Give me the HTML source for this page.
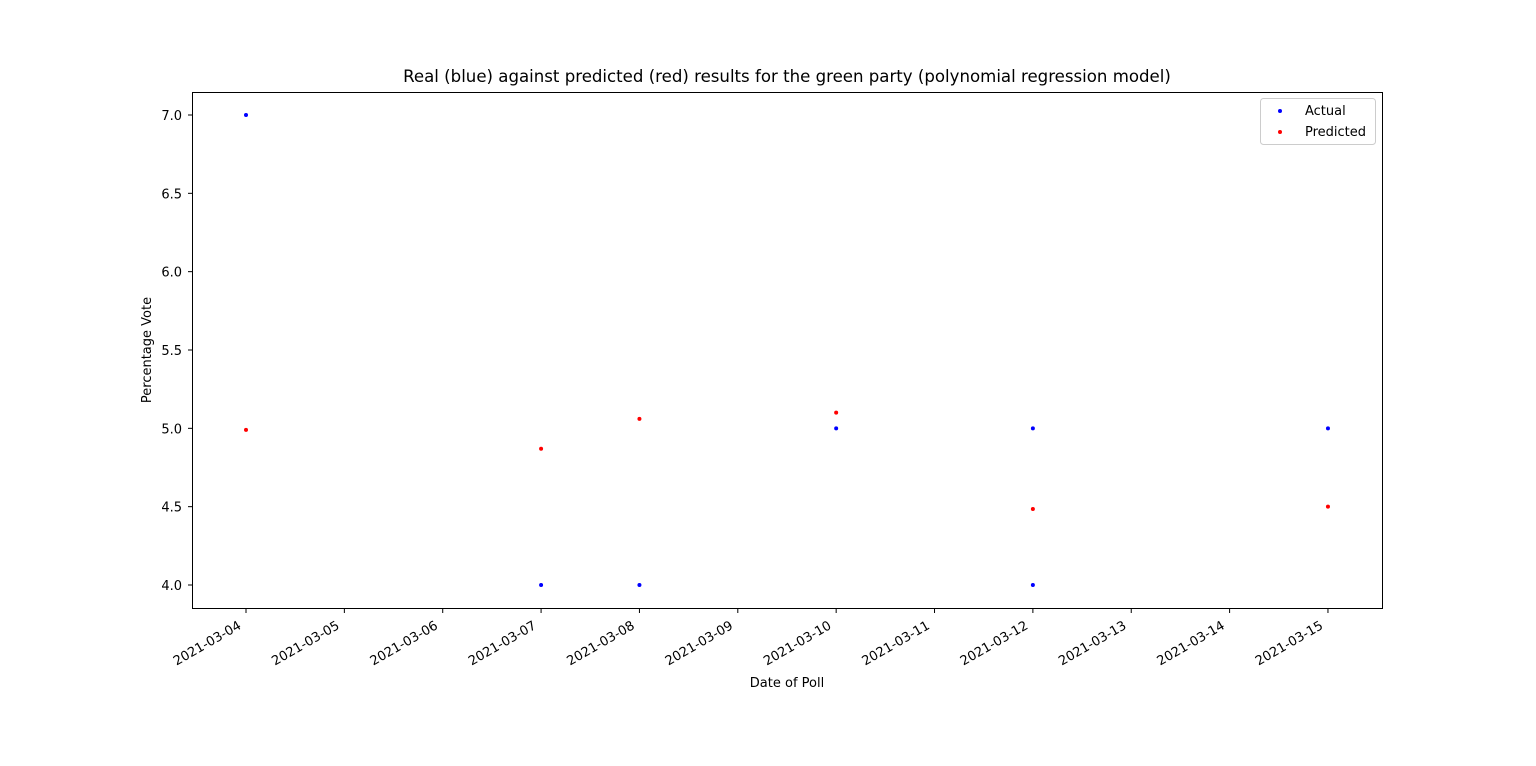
<!DOCTYPE html>
<html><head><meta charset="utf-8"><style>
body{margin:0;background:#fff;}
svg text{font-family:"DejaVu Sans","Liberation Sans",sans-serif;fill:#000;}
</style></head><body>
<svg id="chart" width="1536" height="761" xmlns="http://www.w3.org/2000/svg">
<rect width="1536" height="761" fill="#fff"/>
<text x="787" y="82" font-size="16.6" text-anchor="middle">Real (blue) against predicted (red) results for the green party (polynomial regression model)</text>
<g id="yticks"></g><g id="xticks"></g><g id="marks"></g>
<rect x="192.5" y="92.5" width="1190" height="516" fill="none" stroke="#000" stroke-width="1"/>
<text x="151" y="350" font-size="13" text-anchor="middle" transform="rotate(-90 151 350)">Percentage Vote</text>
<text x="787" y="687" font-size="13" text-anchor="middle">Date of Poll</text>
<g>
<rect x="1260.5" y="98.5" width="115" height="46" rx="3" fill="#fff" stroke="#ccc"/>
<circle cx="1280" cy="111" r="2" fill="#0000ff"/>
<text x="1305" y="115" font-size="13">Actual</text>
<circle cx="1280" cy="132" r="2" fill="#ff0000"/>
<text x="1305" y="136" font-size="13">Predicted</text>
</g>
</svg>
<script>
const xTickLabels=["2021-03-04","2021-03-05","2021-03-06","2021-03-07","2021-03-08","2021-03-09","2021-03-10","2021-03-11","2021-03-12","2021-03-13","2021-03-14","2021-03-15"];
const yTickValues=[4.0,4.5,5.0,5.5,6.0,6.5,7.0];
const actualDays=[4,7,8,10,12,12,15];
const actualValues=[7.0,4.0,4.0,5.0,5.0,4.0,5.0];
const predictedDays=[4,7,8,10,12,15];
const predictedValues=[4.99,4.87,5.06,5.10,4.485,4.50];
const NS="http://www.w3.org/2000/svg";
function xs(day){return 246+(day-4)*98.36;}
function ys(v){return 585-(v-4)*156.67;}
function mk(tag,attrs,parent){const e=document.createElementNS(NS,tag);for(const k in attrs)e.setAttribute(k,attrs[k]);parent.appendChild(e);return e;}
const yt=document.getElementById('yticks'),xt=document.getElementById('xticks'),mg=document.getElementById('marks');
yTickValues.forEach(v=>{const y=ys(v);
const l=mk('line',{x1:188,x2:192,y1:y,y2:y,stroke:'#000'},yt);


const t=mk('text',{x:182,y:y+5,'font-size':13,'text-anchor':'end'},yt);t.textContent=v.toFixed(1);

});
xTickLabels.forEach((s,i)=>{const x=xs(4+i);
const l=mk('line',{x1:x,x2:x,y1:609,y2:613,stroke:'#000'},xt);


const ax=x-4,ay=628;
const t=mk('text',{x:ax,y:ay,'font-size':13,'text-anchor':'end',transform:`rotate(-30 ${ax} ${ay})`},xt);t.textContent=s;

});
actualDays.forEach((d,i)=>{const c=mk('circle',{cx:xs(d),cy:ys(actualValues[i]),r:2,fill:'#0000ff'},mg);

});
predictedDays.forEach((d,i)=>{const c=mk('circle',{cx:xs(d),cy:ys(predictedValues[i]),r:2,fill:'#ff0000'},mg);

});
</script>
</body></html>
